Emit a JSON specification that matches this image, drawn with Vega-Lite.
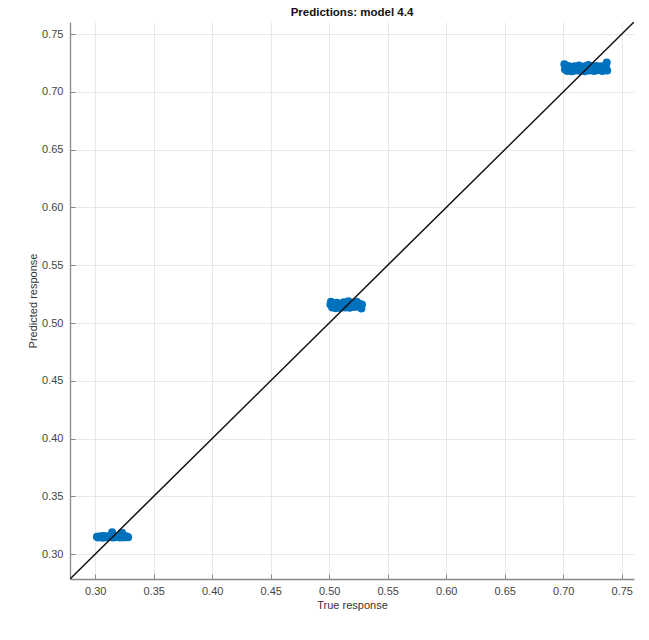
{
  "$schema": "https://vega.github.io/schema/vega-lite/v6.json",
  "width": 564,
  "height": 557,
  "autosize": {"type": "none"},
  "padding": {"left": 70, "top": 22, "right": 15, "bottom": 61},
  "background": "white",
  "title": {"text": "Predictions: model 4.4", "fontSize": 11.5, "fontWeight": "bold", "font": "Liberation Sans", "color": "#111", "anchor": "middle", "offset": 4},
  "config": {
    "view": {"stroke": null},
    "axis": {
      "labelFont": "Liberation Sans", "titleFont": "Liberation Sans",
      "labelFontSize": 11, "titleFontSize": 11, "labelColor": "#444", "titleColor": "#333",
      "titleFontWeight": "normal", "gridColor": "#e8e8e8", "gridWidth": 1,
      "domainColor": "#888", "domainWidth": 1.3, "tickColor": "#888", "tickSize": -5
    }
  },
  "datasets": {
    "pts": [
      {"t": 0.3015, "p": 0.3150}, {"t": 0.3025, "p": 0.3145}, {"t": 0.3035, "p": 0.3153}, {"t": 0.3045, "p": 0.3148},
      {"t": 0.3055, "p": 0.3156}, {"t": 0.3065, "p": 0.3143}, {"t": 0.3075, "p": 0.3158}, {"t": 0.3085, "p": 0.3147},
      {"t": 0.3095, "p": 0.3152}, {"t": 0.3105, "p": 0.3145}, {"t": 0.3115, "p": 0.3155}, {"t": 0.3125, "p": 0.3148},
      {"t": 0.3135, "p": 0.3153}, {"t": 0.3145, "p": 0.3190}, {"t": 0.3150, "p": 0.3145}, {"t": 0.3160, "p": 0.3157},
      {"t": 0.3170, "p": 0.3146}, {"t": 0.3180, "p": 0.3154}, {"t": 0.3190, "p": 0.3149}, {"t": 0.3200, "p": 0.3156},
      {"t": 0.3210, "p": 0.3144}, {"t": 0.3220, "p": 0.3155}, {"t": 0.3230, "p": 0.3185}, {"t": 0.3235, "p": 0.3147},
      {"t": 0.3245, "p": 0.3153}, {"t": 0.3255, "p": 0.3146}, {"t": 0.3265, "p": 0.3155}, {"t": 0.3275, "p": 0.3150},
      {"t": 0.3282, "p": 0.3146},
      {"t": 0.5010, "p": 0.5160}, {"t": 0.5015, "p": 0.5185}, {"t": 0.5025, "p": 0.5135}, {"t": 0.5035, "p": 0.5170},
      {"t": 0.5045, "p": 0.5150}, {"t": 0.5055, "p": 0.5128}, {"t": 0.5065, "p": 0.5175}, {"t": 0.5075, "p": 0.5140},
      {"t": 0.5085, "p": 0.5160}, {"t": 0.5095, "p": 0.5130}, {"t": 0.5105, "p": 0.5168}, {"t": 0.5115, "p": 0.5145},
      {"t": 0.5125, "p": 0.5180}, {"t": 0.5135, "p": 0.5135}, {"t": 0.5145, "p": 0.5162}, {"t": 0.5155, "p": 0.5148},
      {"t": 0.5165, "p": 0.5188}, {"t": 0.5175, "p": 0.5132}, {"t": 0.5185, "p": 0.5165}, {"t": 0.5195, "p": 0.5150},
      {"t": 0.5205, "p": 0.5175}, {"t": 0.5215, "p": 0.5138}, {"t": 0.5225, "p": 0.5160}, {"t": 0.5235, "p": 0.5185},
      {"t": 0.5245, "p": 0.5142}, {"t": 0.5255, "p": 0.5168}, {"t": 0.5265, "p": 0.5150}, {"t": 0.5275, "p": 0.5125},
      {"t": 0.5280, "p": 0.5160},
      {"t": 0.7010, "p": 0.7240}, {"t": 0.7015, "p": 0.7195}, {"t": 0.7025, "p": 0.7215}, {"t": 0.7035, "p": 0.7180},
      {"t": 0.7045, "p": 0.7225}, {"t": 0.7055, "p": 0.7190}, {"t": 0.7065, "p": 0.7210}, {"t": 0.7075, "p": 0.7178},
      {"t": 0.7085, "p": 0.7205}, {"t": 0.7095, "p": 0.7222}, {"t": 0.7105, "p": 0.7185}, {"t": 0.7115, "p": 0.7212},
      {"t": 0.7125, "p": 0.7195}, {"t": 0.7135, "p": 0.7228}, {"t": 0.7145, "p": 0.7182}, {"t": 0.7155, "p": 0.7208},
      {"t": 0.7165, "p": 0.7192}, {"t": 0.7175, "p": 0.7218}, {"t": 0.7185, "p": 0.7178}, {"t": 0.7195, "p": 0.7225},
      {"t": 0.7205, "p": 0.7198}, {"t": 0.7215, "p": 0.7232}, {"t": 0.7225, "p": 0.7186}, {"t": 0.7235, "p": 0.7212},
      {"t": 0.7245, "p": 0.7195}, {"t": 0.7255, "p": 0.7220}, {"t": 0.7265, "p": 0.7180}, {"t": 0.7275, "p": 0.7205},
      {"t": 0.7285, "p": 0.7225}, {"t": 0.7295, "p": 0.7188}, {"t": 0.7305, "p": 0.7210}, {"t": 0.7315, "p": 0.7195},
      {"t": 0.7325, "p": 0.7222}, {"t": 0.7335, "p": 0.7180}, {"t": 0.7345, "p": 0.7205}, {"t": 0.7355, "p": 0.7190},
      {"t": 0.7365, "p": 0.7215}, {"t": 0.7372, "p": 0.7255}, {"t": 0.7376, "p": 0.7185}
    ],
    "diag": [{"t": 0.2785, "p": 0.2785}, {"t": 0.7605, "p": 0.7605}]
  },
  "layer": [
    {
      "data": {"name": "pts"},
      "mark": {"type": "circle", "size": 64, "color": "#0072BD", "opacity": 1},
      "encoding": {
        "x": {"field": "t", "type": "quantitative", "title": "True response",
              "scale": {"domain": [0.2785, 0.7605], "nice": false, "zero": false},
              "axis": {"values": [0.3, 0.35, 0.4, 0.45, 0.5, 0.55, 0.6, 0.65, 0.7, 0.75], "format": ".2f", "labelPadding": 11, "titleY": 20}},
        "y": {"field": "p", "type": "quantitative", "title": "Predicted response",
              "scale": {"domain": [0.2785, 0.7605], "nice": false, "zero": false},
              "axis": {"values": [0.3, 0.35, 0.4, 0.45, 0.5, 0.55, 0.6, 0.65, 0.7, 0.75], "format": ".2f", "labelPadding": 12, "titlePadding": 3}}
      }
    },
    {
      "data": {"name": "diag"},
      "mark": {"type": "line", "color": "#111", "strokeWidth": 1.5, "clip": true},
      "encoding": {
        "x": {"field": "t", "type": "quantitative"},
        "y": {"field": "p", "type": "quantitative"}
      }
    }
  ]
}
